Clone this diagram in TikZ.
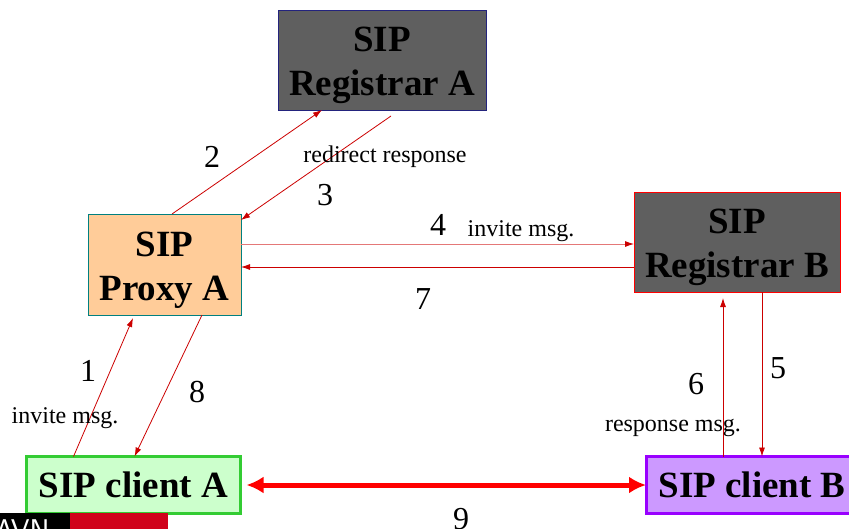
\documentclass[tikz,border=0pt]{standalone}
\usepackage{fontspec}
\setmainfont{Liberation Serif}
\usetikzlibrary{arrows.meta}

\definecolor{boxgray}{RGB}{95,95,95}
\definecolor{regablue}{RGB}{35,35,125}
\definecolor{proxyfill}{RGB}{255,204,153}
\definecolor{proxyline}{RGB}{0,128,128}
\definecolor{cafill}{RGB}{204,255,204}
\definecolor{caline}{RGB}{51,204,51}
\definecolor{cbfill}{RGB}{204,153,255}
\definecolor{cbline}{RGB}{153,0,255}
\definecolor{msgred}{RGB}{204,0,0}
\definecolor{msglight}{RGB}{228,120,120}
\definecolor{logored}{RGB}{208,2,27}

\newcommand{\topstrut}{\rule{0pt}{36pt}}

\tikzstyle{box} = [rectangle, inner sep=0pt, outer sep=0pt, align=center, text=black, font=\fontsize{37}{44}\selectfont\bfseries]
\tikzstyle{reg} = [box, fill=boxgray, line width=1pt]
\tikzstyle{client} = [box, line width=3pt]
\tikzstyle{arrow} = [draw=msgred, line width=0.8pt, -{Latex[length=9pt,width=6pt]}]
\tikzstyle{num} = [inner sep=0pt, font=\fontsize{32}{38}\selectfont]
\tikzstyle{lbl} = [inner sep=0pt, font=\fontsize{24}{28}\selectfont]

\begin{document}
\begin{tikzpicture}[x=1pt,y=-1pt]
\useasboundingbox (0,0) rectangle (849,528);
\fill[white] (0,0) rectangle (849,528);
\clip (0,0) rectangle (849,528);

% Boxes
\node (regA) [reg, draw=regablue, minimum width=208, minimum height=100] at (382,60) {\topstrut SIP\\Registrar A};
\node (proxyA) [box, draw=proxyline, fill=proxyfill, line width=1pt, minimum width=153, minimum height=101] at (164.5,264.5) {\topstrut SIP\\Proxy A};
\node (regB) [reg, draw=red, minimum width=206, minimum height=100] at (737,242) {\topstrut SIP\\Registrar B};
\node (clientA) [client, draw=caline, fill=cafill, minimum width=214, minimum height=57] at (133.5,485) {SIP client A};
\node (clientB) [client, draw=cbline, fill=cbfill, minimum width=212, minimum height=57] at (752,485) {SIP client B};

% Logo (cut off)
\node (logoK) [fill=black, minimum width=70, minimum height=20, inner sep=0pt, anchor=north west] at (0,513) {};
\node (logoR) [fill=logored, minimum width=98, minimum height=20, inner sep=0pt, anchor=north west] at (70,513) {};
\node (logoT) [text=white, inner sep=0pt, anchor=north west, font=\fontsize{30}{34}\selectfont\sffamily] at (-5,519.5) {AVN};

% Messages
\draw [arrow] ([xshift=47]clientA.north west) -- ([xshift=45,yshift=-3]proxyA.south west);
\draw [arrow] ([xshift=84]proxyA.north west) -- ([xshift=44]regA.south west);
\draw [arrow] ([xshift=113,yshift=-6]regA.south west) -- ([yshift=-6]proxyA.north east);
\draw [arrow, draw=msglight, -{Latex[length=9pt,width=6pt,color=msgred]}] ([yshift=-30]proxyA.north east) -- ([yshift=-52]regB.north west);
\draw [arrow] ([xshift=128]regB.south west) -- ([xshift=116]clientB.north west);
\draw [arrow] ([xshift=77]clientB.north west) -- ([xshift=89,yshift=-6]regB.south west);
\draw [arrow] ([yshift=-75]regB.north west) -- ([yshift=-53]proxyA.north east);
\draw [arrow] ([xshift=-39]proxyA.south east) -- ([xshift=108]clientA.north west);
\draw [draw=red, line width=5pt, {Latex[length=17pt,width=17pt]}-{Latex[length=17pt,width=17pt]}, shorten <=6pt] (clientA.east) -- (clientB.west);

% Labels
\node (n1) [num] at (88,371) {1};
\node (n2) [num] at (212,157) {2};
\node (n3) [num] at (325,195) {3};
\node (n4) [num] at (438,225) {4};
\node (n5) [num] at (778,368) {5};
\node (n6) [num] at (696,384) {6};
\node (n7) [num] at (423,299) {7};
\node (n8) [num] at (197,392) {8};
\node (n9) [num] at (461,519) {9};
\node (l1) [lbl] at (65,418) {invite msg.};
\node (l3) [lbl] at (385,157) {redirect response};
\node (l4) [lbl] at (521,231) {invite msg.};
\node (l6) [lbl] at (673,428) {response msg.};
\end{tikzpicture}
\end{document}
